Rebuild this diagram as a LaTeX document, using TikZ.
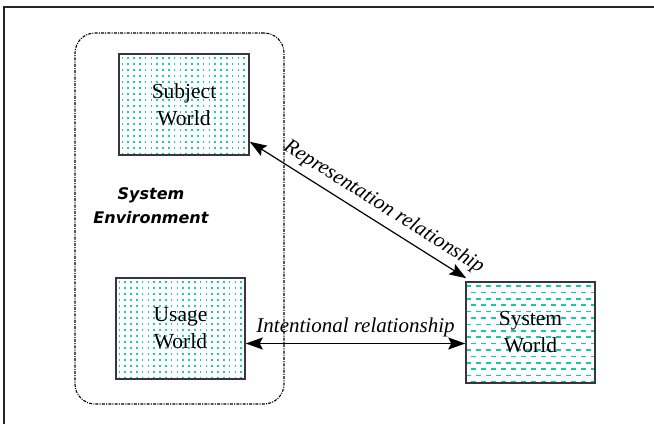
\documentclass[tikz,border=0pt]{standalone}
\usepackage{fontspec}
\setmainfont{Liberation Serif}
\newfontfamily\comicfont{DejaVu Sans}
\usetikzlibrary{arrows.meta,backgrounds}
\definecolor{dotcol}{RGB}{20,210,170}
\definecolor{dashcol}{RGB}{20,205,155}
\definecolor{edgecol}{RGB}{55,55,55}
\tikzset{
  world/.style={draw=edgecol, line width=1.5pt, minimum width=#1, minimum height=101pt,
    inner sep=0pt, align=center, font=\fontsize{21.5}{27}\selectfont},
  envbox/.style={draw=black, line width=1.1pt, rounded corners=20pt,
    dash pattern=on 3pt off 1.2pt on 1pt off 1.2pt, minimum width=209pt, minimum height=371pt},
  rel/.style={{Stealth[length=17pt,width=12pt,inset=3pt]}-{Stealth[length=17pt,width=12pt,inset=3pt]}, line width=1.2pt},
  rellabel/.style={font=\fontsize{21}{24}\selectfont\itshape},
  frameline/.style={line width=2pt, draw=black!85}
}
\begin{document}
\begin{tikzpicture}[x=1pt,y=-1pt]
\useasboundingbox (0,0) rectangle (654,424);
\draw[frameline] (4,424) -- (4,7) -- (654,7);

\node[envbox] (env) at (179.5,218.5) {};
\node[world=130pt] (subj) at (184,104.5) {Subject\\World};
\node[world=129pt] (usage) at (180.5,328.5) {Usage\\World};
\node[world=129pt] (sys) at (530.5,332.5) {System\\World};
\node[font=\comicfont\bfseries\itshape\fontsize{16}{24}\selectfont, align=center] (envlabel) at (151,206) {System\\Environment};

\begin{scope}[on background layer]
  \begin{scope}
    \clip (subj.south west) rectangle (subj.north east);
    \foreach \i in {0,...,22} \foreach \j in {0,...,17}
      \fill[fill=dotcol] (121.5+\i*5.8,57+\j*6) rectangle ++(1.7,1.7);
  \end{scope}
  \begin{scope}
    \clip (usage.south west) rectangle (usage.north east);
    \foreach \i in {0,...,22} \foreach \j in {0,...,17}
      \fill[fill=dotcol] (118.5+\i*5.8,281+\j*6) rectangle ++(1.7,1.7);
  \end{scope}
  \begin{scope}
    \clip (sys.south west) rectangle (sys.north east);
    \foreach \j in {0,...,15} {
      \pgfmathsetmacro{\ph}{mod(\j,2)*5}
      \draw[dashcol, line width=1.6pt, dash pattern=on 5pt off 5pt, dash phase=\ph pt]
        (466,286+\j*6.4) -- (600,286+\j*6.4);
    }
  \end{scope}
\end{scope}

\coordinate (ra) at ([yshift=14pt]subj.south east);
\coordinate (rb) at ([shift={(1pt,3pt)}]sys.north west);
\draw[rel] (ra) -- node[rellabel, sloped, above, pos=0.58, inner sep=6pt] (replabel) {Representation relationship} (rb);
\coordinate (ia) at ([yshift=-15pt]usage.east);
\coordinate (ib) at (sys.west |- ia);
\draw[rel] (ia) -- node[rellabel, above, pos=0.5, inner sep=6pt] (intlabel) {Intentional relationship} (ib);
\end{tikzpicture}
\end{document}
